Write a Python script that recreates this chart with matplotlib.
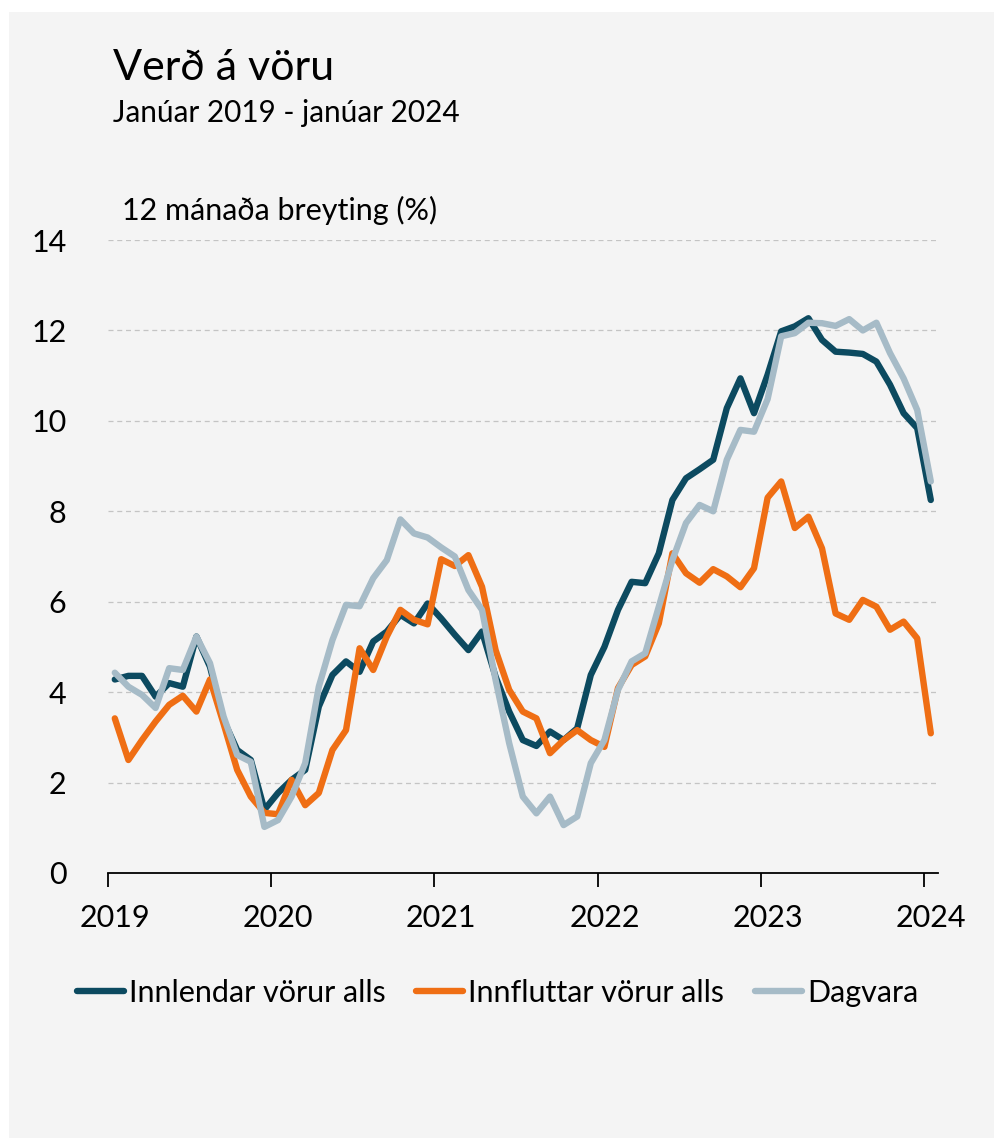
import numpy as np
import matplotlib.pyplot as plt
from matplotlib.patches import Rectangle

plt.rcParams['font.family'] = ['Lato', 'DejaVu Sans']

# 12 month change (%), Jan 2019 - Jan 2024, monthly
innlendar = [4.28, 4.36, 4.36, 3.9, 4.2, 4.12, 5.23, 4.56, 3.38, 2.72, 2.5, 1.4,
             1.77, 2.06, 2.28, 3.68, 4.38, 4.68, 4.45, 5.12, 5.34, 5.71, 5.52, 5.96,
             5.63, 5.27, 4.93, 5.34, 4.34, 3.57, 2.94, 2.81, 3.13, 2.94, 3.2, 4.38,
             5.0, 5.82, 6.44, 6.41, 7.07, 8.25, 8.73, 8.93, 9.14, 10.28, 10.94, 10.17,
             11.02, 11.98, 12.09, 12.27, 11.79, 11.53, 11.51, 11.48, 11.31, 10.8, 10.17, 9.84,
             8.25]
innfluttar = [3.42, 2.5, 2.94, 3.35, 3.72, 3.92, 3.57, 4.28, 3.3, 2.28, 1.69, 1.33,
              1.3, 2.06, 1.5, 1.77, 2.72, 3.16, 4.97, 4.49, 5.23, 5.82, 5.6, 5.5,
              6.94, 6.79, 7.03, 6.33, 4.93, 4.05, 3.57, 3.42, 2.65, 2.94, 3.16, 2.94,
              2.79, 4.09, 4.6, 4.79, 5.52, 7.07, 6.63, 6.42, 6.72, 6.56, 6.32, 6.74,
              8.3, 8.66, 7.63, 7.88, 7.18, 5.74, 5.6, 6.04, 5.89, 5.38, 5.56, 5.19,
              3.09]
dagvara = [4.43, 4.12, 3.94, 3.65, 4.53, 4.49, 5.23, 4.64, 3.46, 2.61, 2.46, 1.02,
           1.17, 1.69, 2.43, 4.12, 5.15, 5.93, 5.9, 6.52, 6.92, 7.82, 7.51, 7.42,
           7.2, 7.0, 6.26, 5.82, 4.27, 2.87, 1.69, 1.32, 1.69, 1.06, 1.25, 2.43,
           2.94, 4.05, 4.68, 4.86, 5.89, 6.92, 7.74, 8.14, 8.0, 9.14, 9.8, 9.76,
           10.48, 11.87, 11.94, 12.17, 12.16, 12.1, 12.25, 12.0, 12.17, 11.5, 10.94, 10.24,
           8.66]
years = ['2019', '2020', '2021', '2022', '2023', '2024']

bg = '#f4f4f4'
fig = plt.figure(figsize=(9.95, 11.38), dpi=100, facecolor='white')
fig.patches.append(Rectangle((9 / 995, 0), 1, 1 - 12 / 1138, transform=fig.transFigure,
                             facecolor=bg, edgecolor='none', zorder=-10))

ax = fig.add_axes([108 / 995, 1 - 873 / 1138, (937.6 - 108) / 995, (873 - 240) / 1138])
ax.set_facecolor(bg)

x = np.arange(len(innlendar))
ax.plot(x, innlendar, color='#0c4a60', lw=4.6, label='Innlendar vörur alls', solid_capstyle='round')
ax.plot(x, innfluttar, color='#ef6e14', lw=4.6, label='Innfluttar vörur alls', solid_capstyle='round')
ax.plot(x, dagvara, color='#a6bbc7', lw=4.6, label='Dagvara', solid_capstyle='round')

ax.set_xlim(-0.5, len(x) - 0.5)
ax.set_ylim(0, 14)
ax.set_yticks(range(0, 15, 2))
ax.set_xticks(np.arange(-0.5, len(x), 12))
ax.set_xticklabels([])
ax.set_xticks(np.arange(0, len(x), 12), minor=True)
ax.set_xticklabels(years, minor=True)
ax.tick_params(axis='x', which='major', length=10, width=1.3, direction='out', color='black')
ax.tick_params(axis='x', which='minor', length=0, pad=22, labelsize=22)
ax.tick_params(axis='y', length=0, pad=30, labelsize=22)

for s in ['top', 'right', 'left']:
    ax.spines[s].set_visible(False)
ax.spines['bottom'].set_linewidth(1.3)

for v in range(2, 15, 2):
    ax.axhline(v, color='#c4c4c4', lw=0.9, ls=(0, (4, 3)), zorder=0)

fig.text(113 / 995, 1 - 80 / 1138, 'Verð á vöru', fontsize=31, va='baseline', ha='left')
fig.text(113 / 995, 1 - 122 / 1138, 'Janúar 2019 - janúar 2024', fontsize=21.4, va='baseline', ha='left')
fig.text(122 / 995, 1 - 220 / 1138, '12 mánaða breyting (%)', fontsize=22, va='baseline', ha='left')

fig.legend(loc='center', bbox_to_anchor=(0.5, 1 - 993 / 1138), ncol=3, frameon=False,
           fontsize=22, handlelength=1.55, handletextpad=0.16, columnspacing=1.0)

fig.savefig('out.png', dpi=100, facecolor='white')
